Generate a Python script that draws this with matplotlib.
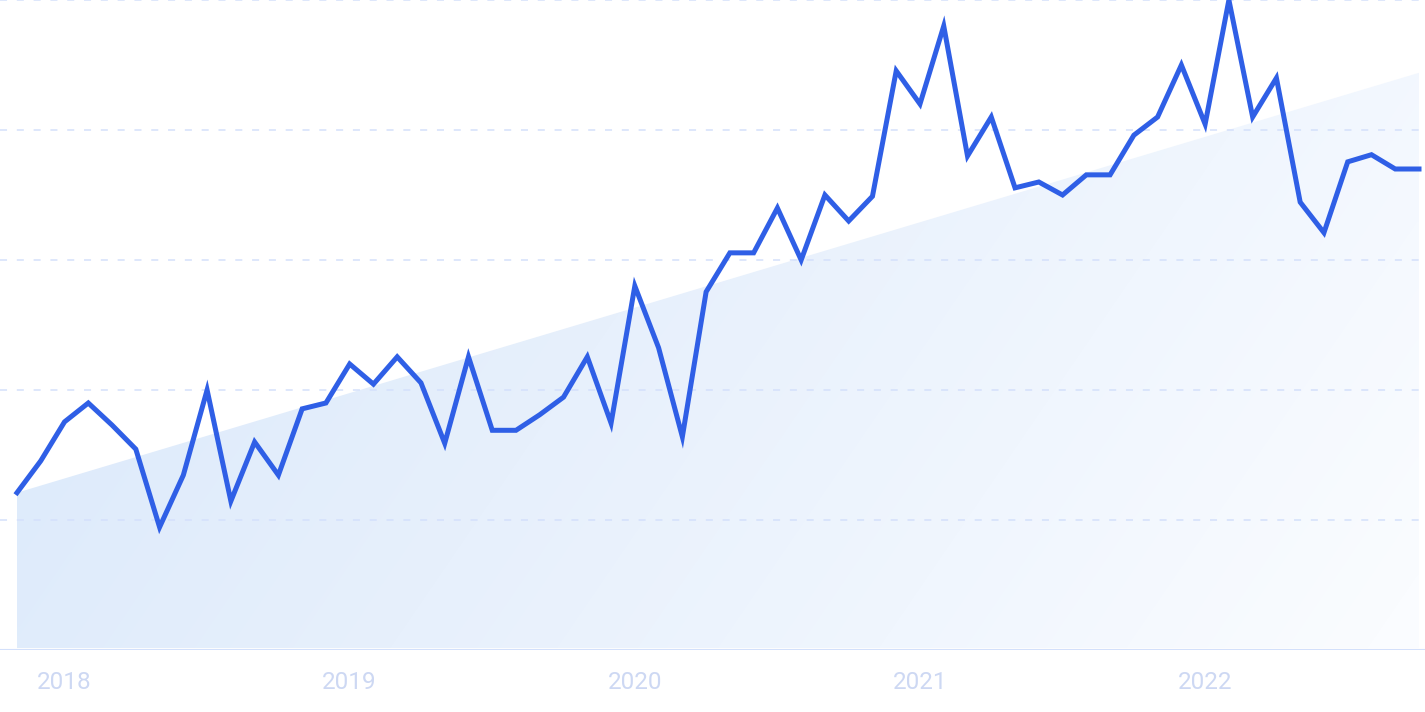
import numpy as np
import matplotlib
matplotlib.use("Agg")
import matplotlib.pyplot as plt
from matplotlib.patches import Polygon
from matplotlib.colors import LinearSegmentedColormap

# ---- data (monthly, Nov 2017 .. Oct 2022) ----
values = [24.2, 29.1, 35.1, 38.0, 34.6, 30.9, 18.9, 26.9, 40.0, 22.9,
          32.0, 26.9, 37.1, 38.0, 44.0, 40.9, 45.1, 41.1, 31.8, 45.1,
          33.8, 33.8, 36.2, 38.9, 45.1, 34.9, 56.0, 46.5, 32.8, 55.1,
          61.1, 61.1, 68.0, 60.0, 70.0, 66.0, 69.8, 89.1, 84.0, 96.0,
          76.0, 82.0, 71.1, 72.0, 70.0, 73.1, 73.1, 79.2, 82.0, 90.0,
          80.9, 100.0, 82.0, 88.0, 68.9, 64.2, 75.1, 76.2, 74.0, 74.0]
trend_start = 24.2
trend_end = 88.8
year_labels = ["2018", "2019", "2020", "2021", "2022"]
year_positions = [2, 14, 26, 38, 50]   # index of January of each year
grid_values = [0, 20, 40, 60, 80, 100]

W, H = 1425, 712
fig = plt.figure(figsize=(W / 100, H / 100), dpi=100)
ax = fig.add_axes([0, 62 / H, 1, 650 / H])

n = len(values)
x = np.arange(n)
step = (1419 - 17) / (n - 1)
ax.set_xlim(-17 / step, (n - 1) + 6 / step)
ax.set_ylim(0, 100)

# gradient-filled trend area
poly = Polygon([[0, 0.3], [0, trend_start], [n - 1, trend_end], [n - 1, 0.3]],
               closed=True, facecolor="none", edgecolor="none")
ax.add_patch(poly)
gx, gy = np.meshgrid(np.linspace(0, 1, 300), np.linspace(0, 1, 200))
t = np.clip(0.95 * gx - 0.3 * gy + 0.08, 0, 1)
cmap = LinearSegmentedColormap.from_list("g", ["#deebfb", "#e7f0fc", "#f0f6fe", "#fafcff"])
im = ax.imshow(t, cmap=cmap, extent=[0, n - 1, 0, 100], origin="lower",
               aspect="auto", vmin=0, vmax=1, zorder=1, interpolation="bilinear")
im.set_clip_path(poly)

# grid lines
for gv in grid_values[1:]:
    ax.axhline(gv, color="#d4e0fb", lw=1.1, ls=(0, (4.6, 6.4)), zorder=2)
ax.axhline(0, color="#d3e0fb", lw=1.5, zorder=2)

ax.plot(x, values, color="#2f5fe6", lw=3.6, solid_joinstyle="miter",
        zorder=3, clip_on=True)

for s in ax.spines.values():
    s.set_visible(False)
ax.set_yticks([])
ax.set_xticks(year_positions)
ax.set_xticklabels(year_labels, fontfamily="Roboto", fontsize=17.5, color="#cdd8f3")
ax.tick_params(axis="x", length=0, pad=15)

fig.savefig("out.png", dpi=100)
